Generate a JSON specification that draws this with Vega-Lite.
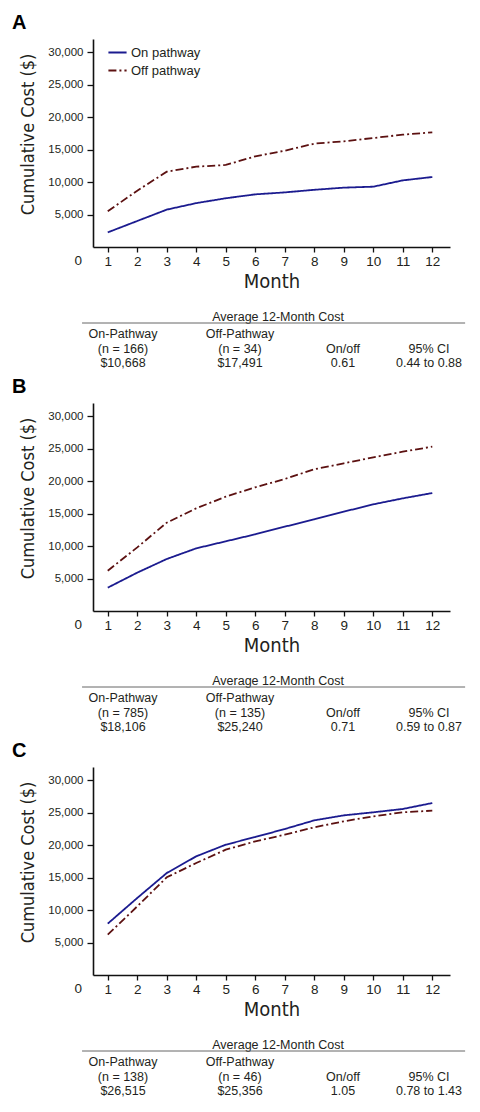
{
"$schema":"https://vega.github.io/schema/vega-lite/v6.json",
"padding":{"left":12,"top":13,"right":0,"bottom":0},
"background":"white",
"spacing":7,
"config":{
 "view":{"stroke":null},
 "font":"Liberation Sans",
 "axis":{"grid":false,"domainColor":"#111","domainWidth":1.6,"tickColor":"#111","tickWidth":1.3,"labelColor":"#231f20","titleColor":"#231f20","labelFont":"Liberation Sans","titleFont":"DejaVu Sans Condensed, Liberation Sans","titleFontWeight":"normal"},
 "axisX":{"tickSize":5,"labelPadding":2,"labelFontSize":13.5,"titleFontSize":20,"titlePadding":4,"labelFlush":false,"labelOverlap":false},
 "axisY":{"tickSize":6,"labelPadding":4,"labelFontSize":11.5,"titleFontSize":18,"titlePadding":10,"titleY":95},
 "legend":{"labelFontSize":13,"labelColor":"#231f20","labelFont":"Liberation Sans","symbolType":"stroke","symbolSize":330,"symbolStrokeWidth":2,"rowPadding":-2,"labelOffset":3,"padding":0},
 "title":{"anchor":"start","frame":"group","dx":-81,"fontSize":20,"fontWeight":"bold","color":"#000","offset":6,"font":"Liberation Sans"}
},
"datasets":{
 "A":[
  {"month":1,"cost":2250,"group":"On pathway"},{"month":2,"cost":4000,"group":"On pathway"},{"month":3,"cost":5750,"group":"On pathway"},{"month":4,"cost":6750,"group":"On pathway"},{"month":5,"cost":7500,"group":"On pathway"},{"month":6,"cost":8100,"group":"On pathway"},{"month":7,"cost":8400,"group":"On pathway"},{"month":8,"cost":8800,"group":"On pathway"},{"month":9,"cost":9130,"group":"On pathway"},{"month":10,"cost":9280,"group":"On pathway"},{"month":11,"cost":10250,"group":"On pathway"},{"month":12,"cost":10770,"group":"On pathway"},
  {"month":1,"cost":5490,"group":"Off pathway"},{"month":2,"cost":8670,"group":"Off pathway"},{"month":3,"cost":11590,"group":"Off pathway"},{"month":4,"cost":12360,"group":"Off pathway"},{"month":5,"cost":12620,"group":"Off pathway"},{"month":6,"cost":13950,"group":"Off pathway"},{"month":7,"cost":14820,"group":"Off pathway"},{"month":8,"cost":15900,"group":"Off pathway"},{"month":9,"cost":16260,"group":"Off pathway"},{"month":10,"cost":16770,"group":"Off pathway"},{"month":11,"cost":17280,"group":"Off pathway"},{"month":12,"cost":17640,"group":"Off pathway"}
 ],
 "B":[
  {"month":1,"cost":3590,"group":"On pathway"},{"month":2,"cost":5900,"group":"On pathway"},{"month":3,"cost":8000,"group":"On pathway"},{"month":4,"cost":9640,"group":"On pathway"},{"month":5,"cost":10720,"group":"On pathway"},{"month":6,"cost":11800,"group":"On pathway"},{"month":7,"cost":12970,"group":"On pathway"},{"month":8,"cost":14100,"group":"On pathway"},{"month":9,"cost":15280,"group":"On pathway"},{"month":10,"cost":16410,"group":"On pathway"},{"month":11,"cost":17330,"group":"On pathway"},{"month":12,"cost":18150,"group":"On pathway"},
  {"month":1,"cost":6200,"group":"Off pathway"},{"month":2,"cost":9790,"group":"Off pathway"},{"month":3,"cost":13590,"group":"Off pathway"},{"month":4,"cost":15800,"group":"Off pathway"},{"month":5,"cost":17590,"group":"Off pathway"},{"month":6,"cost":19030,"group":"Off pathway"},{"month":7,"cost":20310,"group":"Off pathway"},{"month":8,"cost":21800,"group":"Off pathway"},{"month":9,"cost":22720,"group":"Off pathway"},{"month":10,"cost":23640,"group":"Off pathway"},{"month":11,"cost":24510,"group":"Off pathway"},{"month":12,"cost":25280,"group":"Off pathway"}
 ],
 "C":[
  {"month":1,"cost":7900,"group":"On pathway"},{"month":2,"cost":11850,"group":"On pathway"},{"month":3,"cost":15690,"group":"On pathway"},{"month":4,"cost":18260,"group":"On pathway"},{"month":5,"cost":20050,"group":"On pathway"},{"month":6,"cost":21230,"group":"On pathway"},{"month":7,"cost":22460,"group":"On pathway"},{"month":8,"cost":23790,"group":"On pathway"},{"month":9,"cost":24560,"group":"On pathway"},{"month":10,"cost":25030,"group":"On pathway"},{"month":11,"cost":25540,"group":"On pathway"},{"month":12,"cost":26460,"group":"On pathway"},
  {"month":1,"cost":6200,"group":"Off pathway"},{"month":2,"cost":10560,"group":"Off pathway"},{"month":3,"cost":15030,"group":"Off pathway"},{"month":4,"cost":17230,"group":"Off pathway"},{"month":5,"cost":19280,"group":"Off pathway"},{"month":6,"cost":20560,"group":"Off pathway"},{"month":7,"cost":21590,"group":"Off pathway"},{"month":8,"cost":22720,"group":"Off pathway"},{"month":9,"cost":23640,"group":"Off pathway"},{"month":10,"cost":24410,"group":"Off pathway"},{"month":11,"cost":25030,"group":"Off pathway"},{"month":12,"cost":25280,"group":"Off pathway"}
 ],
 "tA":[
  {"col":2.37,"row":0,"text":"Average 12-Month Cost"},
  {"col":1,"row":1,"text":"On-Pathway"},{"col":2,"row":1,"text":"Off-Pathway"},
  {"col":1,"row":2,"text":"(n = 166)"},{"col":2,"row":2,"text":"(n = 34)"},{"col":3,"row":2,"text":"On/off"},{"col":4,"row":2,"text":"95% CI"},
  {"col":1,"row":3,"text":"$10,668"},{"col":2,"row":3,"text":"$17,491"},{"col":3,"row":3,"text":"0.61"},{"col":4,"row":3,"text":"0.44 to 0.88"}
 ],
 "tB":[
  {"col":2.37,"row":0,"text":"Average 12-Month Cost"},
  {"col":1,"row":1,"text":"On-Pathway"},{"col":2,"row":1,"text":"Off-Pathway"},
  {"col":1,"row":2,"text":"(n = 785)"},{"col":2,"row":2,"text":"(n = 135)"},{"col":3,"row":2,"text":"On/off"},{"col":4,"row":2,"text":"95% CI"},
  {"col":1,"row":3,"text":"$18,106"},{"col":2,"row":3,"text":"$25,240"},{"col":3,"row":3,"text":"0.71"},{"col":4,"row":3,"text":"0.59 to 0.87"}
 ],
 "tC":[
  {"col":2.37,"row":0,"text":"Average 12-Month Cost"},
  {"col":1,"row":1,"text":"On-Pathway"},{"col":2,"row":1,"text":"Off-Pathway"},
  {"col":1,"row":2,"text":"(n = 138)"},{"col":2,"row":2,"text":"(n = 46)"},{"col":3,"row":2,"text":"On/off"},{"col":4,"row":2,"text":"95% CI"},
  {"col":1,"row":3,"text":"$26,515"},{"col":2,"row":3,"text":"$25,356"},{"col":3,"row":3,"text":"1.05"},{"col":4,"row":3,"text":"0.78 to 1.43"}
 ],
 "rule":[{"col":0.65,"col2":4.42,"row":0.5}],
 "zero":[{"month":0,"cost":0,"label":"0"}]
},
"vconcat":[
 {"spacing":19,"vconcat":[
  {"title":{"text":"A"},"width":357,"height":208,
   "layer":[
    {"data":{"name":"A"},"mark":{"type":"line","strokeWidth":1.8},
     "encoding":{
      "x":{"field":"month","type":"quantitative","scale":{"domain":[0.5,12.6],"nice":false,"zero":false},"axis":{"values":[1,2,3,4,5,6,7,8,9,10,11,12],"title":"Month"}},
      "y":{"field":"cost","type":"quantitative","scale":{"domain":[0,32000],"nice":false},"axis":{"values":[5000,10000,15000,20000,25000,30000],"format":",.0f","title":"Cumulative Cost ($)"}},
      "color":{"field":"group","type":"nominal","scale":{"domain":["On pathway","Off pathway"],"range":["#1b1b8f","#5c1111"]},"legend":{"title":null,"orient":"none","legendX":14,"legendY":3}},
      "strokeDash":{"field":"group","type":"nominal","scale":{"domain":["On pathway","Off pathway"],"range":[[1,0],[8,3,2,3]]},"legend":{"title":null,"orient":"none","legendX":14,"legendY":3}}
     }},
    {"data":{"name":"zero"},"mark":{"type":"text","dy":14,"fontSize":13.5,"color":"#231f20","baseline":"middle"},
     "encoding":{"x":{"field":"month","type":"quantitative","axis":{"values":[1,2,3,4,5,6,7,8,9,10,11,12],"title":"Month"}},"y":{"field":"cost","type":"quantitative","axis":{"values":[5000,10000,15000,20000,25000,30000],"format":",.0f","title":"Cumulative Cost ($)"}},"text":{"field":"label"}}}
   ]},
  {"width":357,"height":46,
   "layer":[
    {"data":{"name":"tA"},"mark":{"type":"text","fontSize":12.5,"baseline":"middle","align":"center","color":"#231f20"},
     "encoding":{"x":{"field":"col","type":"quantitative","scale":{"domain":[1,2,3,4],"range":[30,147,250,336]},"axis":null},
      "y":{"field":"row","type":"quantitative","scale":{"domain":[0,0.5,1,3],"range":[0,6,17,46]},"axis":null},
      "text":{"field":"text"}}},
    {"data":{"name":"rule"},"mark":{"type":"rule","strokeWidth":1,"color":"#666"},
     "encoding":{"x":{"field":"col","type":"quantitative","axis":null},"x2":{"field":"col2"},"y":{"field":"row","type":"quantitative","axis":null}}}
   ]}
 ]},
 {"spacing":19,"vconcat":[
  {"title":{"text":"B"},"width":357,"height":208,
   "layer":[
    {"data":{"name":"B"},"mark":{"type":"line","strokeWidth":1.8},
     "encoding":{
      "x":{"field":"month","type":"quantitative","scale":{"domain":[0.5,12.6],"nice":false,"zero":false},"axis":{"values":[1,2,3,4,5,6,7,8,9,10,11,12],"title":"Month"}},
      "y":{"field":"cost","type":"quantitative","scale":{"domain":[0,32000],"nice":false},"axis":{"values":[5000,10000,15000,20000,25000,30000],"format":",.0f","title":"Cumulative Cost ($)"}},
      "color":{"field":"group","type":"nominal","scale":{"domain":["On pathway","Off pathway"],"range":["#1b1b8f","#5c1111"]},"legend":{"title":null,"orient":"none","legendX":14,"legendY":3}},
      "strokeDash":{"field":"group","type":"nominal","scale":{"domain":["On pathway","Off pathway"],"range":[[1,0],[8,3,2,3]]},"legend":{"title":null,"orient":"none","legendX":14,"legendY":3}}
     }},
    {"data":{"name":"zero"},"mark":{"type":"text","dy":14,"fontSize":13.5,"color":"#231f20","baseline":"middle"},
     "encoding":{"x":{"field":"month","type":"quantitative","axis":{"values":[1,2,3,4,5,6,7,8,9,10,11,12],"title":"Month"}},"y":{"field":"cost","type":"quantitative","axis":{"values":[5000,10000,15000,20000,25000,30000],"format":",.0f","title":"Cumulative Cost ($)"}},"text":{"field":"label"}}}
   ]},
  {"width":357,"height":46,
   "layer":[
    {"data":{"name":"tB"},"mark":{"type":"text","fontSize":12.5,"baseline":"middle","align":"center","color":"#231f20"},
     "encoding":{"x":{"field":"col","type":"quantitative","scale":{"domain":[1,2,3,4],"range":[30,147,250,336]},"axis":null},
      "y":{"field":"row","type":"quantitative","scale":{"domain":[0,0.5,1,3],"range":[0,6,17,46]},"axis":null},
      "text":{"field":"text"}}},
    {"data":{"name":"rule"},"mark":{"type":"rule","strokeWidth":1,"color":"#666"},
     "encoding":{"x":{"field":"col","type":"quantitative","axis":null},"x2":{"field":"col2"},"y":{"field":"row","type":"quantitative","axis":null}}}
   ]}
 ]},
 {"spacing":19,"vconcat":[
  {"title":{"text":"C"},"width":357,"height":208,
   "layer":[
    {"data":{"name":"C"},"mark":{"type":"line","strokeWidth":1.8},
     "encoding":{
      "x":{"field":"month","type":"quantitative","scale":{"domain":[0.5,12.6],"nice":false,"zero":false},"axis":{"values":[1,2,3,4,5,6,7,8,9,10,11,12],"title":"Month"}},
      "y":{"field":"cost","type":"quantitative","scale":{"domain":[0,32000],"nice":false},"axis":{"values":[5000,10000,15000,20000,25000,30000],"format":",.0f","title":"Cumulative Cost ($)"}},
      "color":{"field":"group","type":"nominal","scale":{"domain":["On pathway","Off pathway"],"range":["#1b1b8f","#5c1111"]},"legend":{"title":null,"orient":"none","legendX":14,"legendY":3}},
      "strokeDash":{"field":"group","type":"nominal","scale":{"domain":["On pathway","Off pathway"],"range":[[1,0],[8,3,2,3]]},"legend":{"title":null,"orient":"none","legendX":14,"legendY":3}}
     }},
    {"data":{"name":"zero"},"mark":{"type":"text","dy":14,"fontSize":13.5,"color":"#231f20","baseline":"middle"},
     "encoding":{"x":{"field":"month","type":"quantitative","axis":{"values":[1,2,3,4,5,6,7,8,9,10,11,12],"title":"Month"}},"y":{"field":"cost","type":"quantitative","axis":{"values":[5000,10000,15000,20000,25000,30000],"format":",.0f","title":"Cumulative Cost ($)"}},"text":{"field":"label"}}}
   ]},
  {"width":357,"height":46,
   "layer":[
    {"data":{"name":"tC"},"mark":{"type":"text","fontSize":12.5,"baseline":"middle","align":"center","color":"#231f20"},
     "encoding":{"x":{"field":"col","type":"quantitative","scale":{"domain":[1,2,3,4],"range":[30,147,250,336]},"axis":null},
      "y":{"field":"row","type":"quantitative","scale":{"domain":[0,0.5,1,3],"range":[0,6,17,46]},"axis":null},
      "text":{"field":"text"}}},
    {"data":{"name":"rule"},"mark":{"type":"rule","strokeWidth":1,"color":"#666"},
     "encoding":{"x":{"field":"col","type":"quantitative","axis":null},"x2":{"field":"col2"},"y":{"field":"row","type":"quantitative","axis":null}}}
   ]}
 ]}
]
}
